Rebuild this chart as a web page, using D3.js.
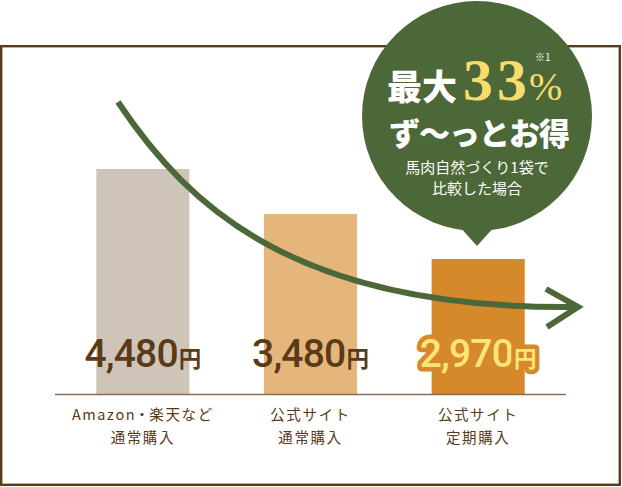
<!DOCTYPE html>
<html>
<head>
<meta charset="utf-8">
<script src="https://cdn.jsdelivr.net/npm/d3@7"></script>
<style>
  body { margin: 0; background: #fff; }
  svg { display: block; }
</style>
</head>
<body>
<svg id="chart" width="622" height="487"></svg>
<script>
  // data
  const categories = [
    ["Amazon・楽天など", "通常購入"],
    ["公式サイト", "通常購入"],
    ["公式サイト", "定期購入"],
  ];
  const prices = [4480, 3480, 2970];
  const barLevels = [100, 80, 60]; // bar height, % of the first bar
  const barColors = ["#cfc4b8", "#e5b67b", "#d5892a"];

  const brown = "#5a3a17";
  const green = "#4d6838";

  const svg = d3.select("#chart");

  const x = d3
    .scaleBand()
    .domain(d3.range(categories.length))
    .range([59, 562])
    .paddingInner(0.445)
    .paddingOuter(0.2225);

  const y = d3.scaleLinear().domain([0, 100]).range([394, 169]);

  // frame
  svg
    .append("rect")
    .attr("x", 1.2)
    .attr("y", 46.2)
    .attr("width", 618.6)
    .attr("height", 438.6)
    .attr("fill", "none")
    .attr("stroke", brown)
    .attr("stroke-width", 2.4);

  // bars
  svg
    .append("g")
    .selectAll()
    .data(barLevels)
    .join("rect")
    .attr("x", (d, i) => x(i))
    .attr("y", (d) => y(d))
    .attr("width", x.bandwidth())
    .attr("height", (d) => y(0) - y(d))
    .attr("fill", (d, i) => barColors[i]);

  // baseline
  svg
    .append("line")
    .attr("x1", x.range()[0] - 4)
    .attr("x2", x.range()[1] + 4)
    .attr("y1", y(0) + 0.5)
    .attr("y2", y(0) + 0.5)
    .attr("stroke", "#8b6c4c")
    .attr("stroke-width", 1.6);

  // category labels, one text per line; the middle dot gets tighter spacing
  const lines = [];
  categories.forEach((c, i) => c.forEach((t, j) => lines.push({ t, i, j })));
  const cat = svg
    .append("g")
    .selectAll()
    .data(lines)
    .join("text")
    .attr("x", (d) => x(d.i) + x.bandwidth() / 2)
    .attr("y", (d) => 420 + d.j * 23)
    .attr("text-anchor", "middle")
    .attr("fill", brown)
    .attr("font-family", "'Noto Sans CJK JP', sans-serif")
    .attr("font-size", 14.5)
    .attr("letter-spacing", 1.6);
  cat
    .selectAll("tspan")
    .data((d) => d.t.split(/(・)/).filter((s) => s))
    .join("tspan")
    .attr("dx", (s, k) => (k > 0 ? -1.5 : null))
    .text((s) => s);

  // value labels
  const fmt = d3.format(",");
  const val = svg
    .append("g")
    .selectAll()
    .data(prices)
    .join("text")
    .attr("x", (d, i) => x(i) + x.bandwidth() / 2)
    .attr("y", 367)
    .attr("text-anchor", "middle")
    .attr("font-family", "Roboto, sans-serif")
    .attr("font-weight", 500)
    .attr("fill", (d, i) => (i === prices.length - 1 ? "#ffe47a" : brown))
    .attr("stroke", (d, i) => (i === prices.length - 1 ? "#d5892a" : "none"))
    .attr("stroke-width", 9)
    .attr("stroke-linejoin", "round")
    .attr("paint-order", "stroke");
  val
    .append("tspan")
    .attr("font-size", 39)
    .attr("letter-spacing", -0.8)
    .text((d) => fmt(d));
  val
    .append("tspan")
    .attr("font-family", "'Noto Sans CJK JP', sans-serif")
    .attr("font-weight", 700)
    .attr("font-size", 22.5)
    .attr("dx", 1)
    .text("円");

  // arrow
  svg
    .append("path")
    .attr("d", "M118,102 C190,210 300,310 576,307")
    .attr("fill", "none")
    .attr("stroke", green)
    .attr("stroke-width", 6);
  svg
    .append("path")
    .attr("d", "M546,289 L578,307 L547,327")
    .attr("fill", "none")
    .attr("stroke", green)
    .attr("stroke-width", 6)
    .attr("stroke-linejoin", "miter");

  // bubble
  const bubble = svg.append("g");
  bubble.append("circle").attr("cx", 477).attr("cy", 116).attr("r", 115).attr("fill", green);
  bubble
    .append("path")
    .attr("d", "M459,226 L477,246 L495,226 Z")
    .attr("fill", green);

  const head = bubble
    .append("text")
    .attr("y", 100)
    .attr("fill", "#fff");
  head
    .append("tspan")
    .attr("x", 387)
    .attr("font-family", "'Noto Sans CJK JP', serif")
    .attr("font-weight", 900)
    .attr("font-size", 35)
    .text("最大");
  head
    .append("tspan")
    .attr("dx", 6)
    .attr("fill", "#f6dc6c")
    .attr("font-family", "'Liberation Serif', serif")
    .attr("font-weight", 700)
    .attr("font-size", 60)
    .attr("letter-spacing", 4)
    .text("33");
  head
    .append("tspan")
    .attr("dx", -2)
    .attr("fill", "#f6dc6c")
    .attr("font-family", "'Liberation Serif', serif")
    .attr("font-size", 40)
    .text("%");

  bubble
    .append("text")
    .attr("x", 535)
    .attr("y", 61)
    .attr("fill", "#fff")
    .attr("font-family", "'Noto Sans CJK JP', sans-serif")
    .attr("font-size", 10)
    .text("※1");

  bubble
    .append("text")
    .attr("x", 479)
    .attr("y", 145)
    .attr("text-anchor", "middle")
    .attr("fill", "#fff")
    .attr("font-family", "'Noto Sans CJK JP', serif")
    .attr("font-weight", 900)
    .attr("font-size", 31)
    .attr("letter-spacing", -1)
    .text("ず〜っとお得");

  bubble
    .append("g")
    .selectAll()
    .data(["馬肉自然づくり1袋で", "比較した場合"])
    .join("text")
    .attr("x", 477)
    .attr("y", (d, i) => 173 + i * 21)
    .attr("text-anchor", "middle")
    .attr("fill", "#fff")
    .attr("font-family", "'Noto Sans CJK JP', sans-serif")
    .attr("font-size", 15)
    .text((d) => d);
</script>
</body>
</html>
